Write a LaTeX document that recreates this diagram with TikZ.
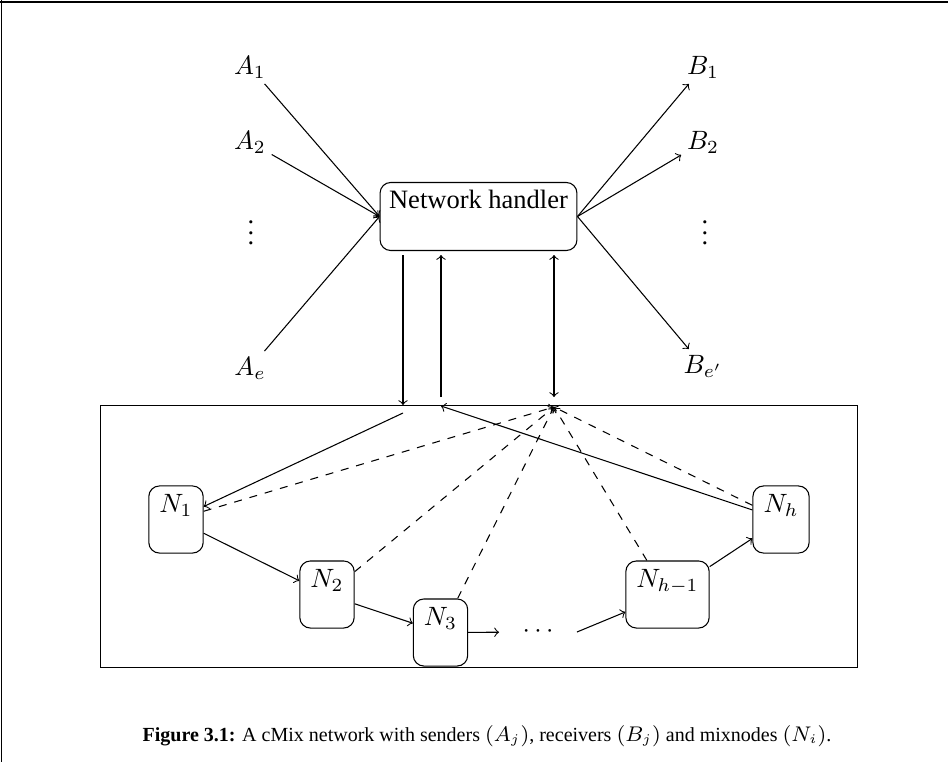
\documentclass[tikz,border=0pt]{standalone}
\usepackage{fontspec}
\setmainfont{Liberation Serif}
\tikzset{
  % Network handler box
  nhbox/.style={rectangle,rounded corners=4pt,draw,
    minimum width=74.3pt,text height=6.5pt,text depth=12.5pt},
  % Mixnode box
  mixbox/.style={rectangle,rounded corners=4pt,draw,inner xsep=4pt,
    minimum width=19.2pt,text height=6.85pt,text depth=11.8pt},
  % Frame round the mixnodes
  netbox/.style={rectangle,draw,minimum width=286pt,minimum height=99.2pt},
  % Sender / receiver labels
  party/.style={inner sep=2pt},
  % Caption text
  captxt/.style={font=\fontsize{7.55}{9}\selectfont},
  % Arrows
  arr/.style={->},
  arrd/.style={->,dashed},
}
\begin{document}
\begin{tikzpicture}[x=0.3774pt,y=-0.3774pt]
  \useasboundingbox (0,0) rectangle (948,762);
  % page frame
  \draw (0,2) -- (948,2);
  \draw (1.5,0) -- (1.5,762);

  % Senders (left)
  \node[party] (a1) at (250,67) {$A_1$};
  \node[party] (a2) at (250,142) {$A_2$};
  \node[party] (av) at (251,225) {$\vdots$};
  \node[party] (ae) at (250,368) {$A_e$};

  % Receivers (right)
  \node[party] (b1) at (703,67) {$B_1$};
  \node[party] (b2) at (703,142) {$B_2$};
  \node[party] (bv) at (705,225) {$\vdots$};
  \node[party] (be) at (703,366) {$B_{e'}$};

  % Network handler
  \node[nhbox] (nh) at (478.5,216.5) {Network handler};

  % Mixnet frame and mixnodes
  \node[netbox] (net) at (479,536.5) {};
  \node[mixbox] (n1) at (176,519.5) {$N_1$};
  \node[mixbox] (n2) at (327,594.5) {$N_2$};
  \node[mixbox] (n3) at (440.5,632.5) {$N_3$};
  \node[minimum width=29pt] (dots) at (538,632) {$\cdots$};
  \node[mixbox] (nhm) at (667.5,594.5) {$N_{h-1}$};
  \node[mixbox] (nh1) at (781,519.5) {$N_h$};

  % Ends of the handler/mixnet links
  \coordinate (h1) at (403,255);
  \coordinate (m1) at (403,405);
  \coordinate (h2) at (441,255);
  \coordinate (m2) at (441,397);
  \coordinate (h3) at (554,255);
  \coordinate (m3) at (554,397);
  \coordinate (in) at (403,413);
  \coordinate (out) at (441,406);
  \coordinate (hub) at (554,407);

  % Senders to handler
  \draw[arr] (a1) -- (nh.west);
  \draw[arr] (a2) -- (nh.west);
  \draw[arr] (ae) -- (nh.west);

  % Handler to receivers
  \draw[arr] (nh.east) -- (b1);
  \draw[arr] (nh.east) -- (b2);
  \draw[arr] (nh.east) -- (be);

  % Handler <-> mixnet
  \draw[arr] (h1) -- (m1);
  \draw[arr] (m2) -- (h2);
  \draw[arr,<->] (h3) -- (m3);

  % Mixing cascade
  \draw[arr] (in) -- (n1);
  \draw[arr] (n1) -- (n2);
  \draw[arr] (n2) -- (n3);
  \draw[arr] (n3) -- (dots);
  \draw[arr] (dots.east) -- (nhm);
  \draw[arr] (nhm) -- (nh1);
  \draw[arr] (nh1) -- (out);

  % Mixnodes back to the handler (dashed)
  \foreach \n in {n1,n2,n3,nhm,nh1}
    \draw[arrd] (\n) -- (hub);

  % Caption
  \node[captxt] (cap) at (487,736)
    {\textbf{Figure 3.1:} A cMix network with senders $(A_j)$, receivers $(B_j)$ and mixnodes $(N_i)$.};
\end{tikzpicture}
\end{document}
